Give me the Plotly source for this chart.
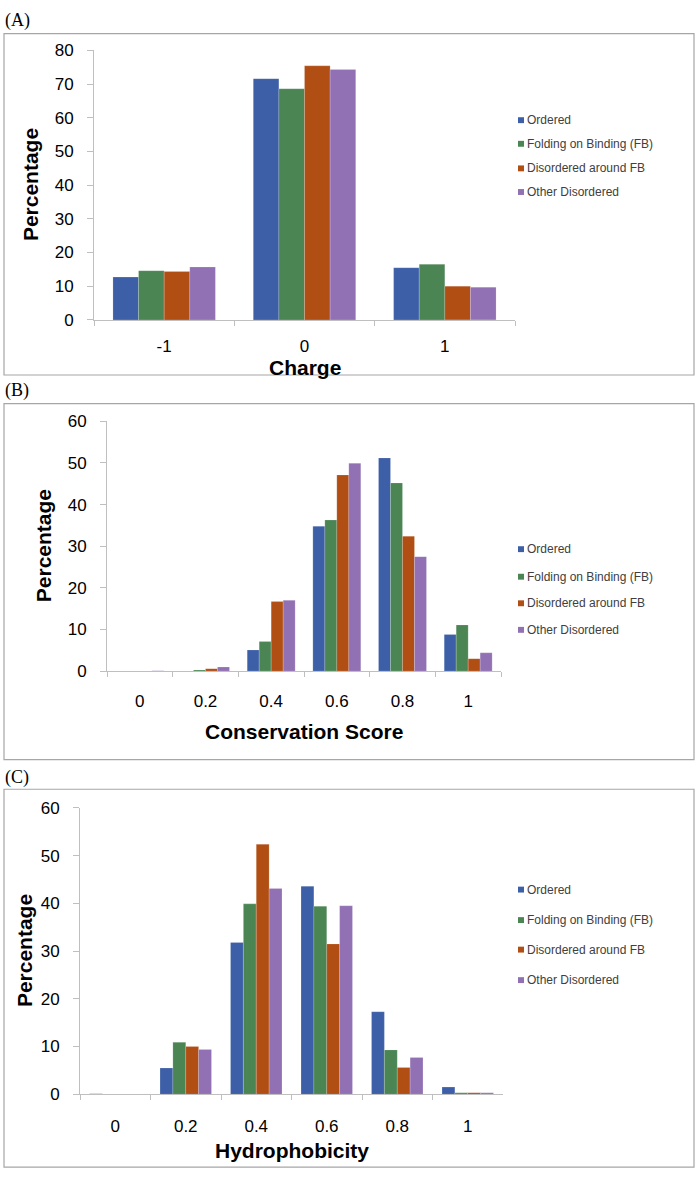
import plotly.graph_objects as go

# series shared by all three panels
series = ["Ordered", "Folding on Binding (FB)", "Disordered around FB", "Other Disordered"]
colors = ["#3D5FA7", "#4A8553", "#B04E14", "#9170B3"]

# (A) charge
charge_cats = ["-1", "0", "1"]
charge_ordered = [12.7, 71.6, 15.5]
charge_fb = [14.6, 68.6, 16.5]
charge_dis_fb = [14.4, 75.4, 10.0]
charge_other = [15.7, 74.3, 9.7]

# (B) conservation score
cons_cats = ["0", "0.2", "0.4", "0.6", "0.8", "1"]
cons_ordered = [0.0, 0.0, 5.1, 34.8, 51.2, 8.8]
cons_fb = [0.0, 0.3, 7.1, 36.3, 45.2, 11.1]
cons_dis_fb = [0.0, 0.6, 16.7, 47.1, 32.4, 3.0]
cons_other = [0.1, 1.0, 17.0, 49.9, 27.5, 4.4]

# (C) hydrophobicity
hyd_cats = ["0", "0.2", "0.4", "0.6", "0.8", "1"]
hyd_ordered = [0.1, 5.5, 31.8, 43.6, 17.3, 1.5]
hyd_fb = [0.0, 10.9, 39.9, 39.4, 9.3, 0.3]
hyd_dis_fb = [0.0, 10.0, 52.4, 31.5, 5.6, 0.3]
hyd_other = [0.0, 9.4, 43.1, 39.5, 7.7, 0.3]

W, H = 700, 1181
def px(x):
    return x / W
def py(y):
    return 1 - y / H

GREY = "#BFBFBF"
BOX = "#A6A6A6"

panels = [
    dict(tag="(A)", cats=charge_cats, vals=[charge_ordered, charge_fb, charge_dis_fb, charge_other],
         xtitle="Charge", ymax=80, xdom=(94, 515), ydom=(42, 316), box=(25, 372), label_y=12,
         ytitle_x=30, xtitle_y=364, xlab_off=11, legend_rows=[113, 137, 162, 186]),
    dict(tag="(B)", cats=cons_cats, vals=[cons_ordered, cons_fb, cons_dis_fb, cons_other],
         xtitle="Conservation Score", ymax=60, xdom=(107, 501), ydom=(419, 673), box=(401, 763), label_y=388,
         ytitle_x=43, xtitle_y=734, xlab_off=14, legend_rows=[549, 577, 604, 631]),
    dict(tag="(C)", cats=hyd_cats, vals=[hyd_ordered, hyd_fb, hyd_dis_fb, hyd_other],
         xtitle="Hydrophobicity", ymax=60, xdom=(80, 503), ydom=(812, 1103), box=(793, 1177), label_y=781,
         ytitle_x=24, xtitle_y=1160, xlab_off=16, legend_rows=[895, 926, 956, 987]),
]

fig = go.Figure()
shapes = []
annotations = []
layout_axes = {}

for i, p in enumerate(panels):
    n = "" if i == 0 else str(i + 1)
    for name, color, vals in zip(series, colors, p["vals"]):
        fig.add_trace(go.Bar(
            x=p["cats"], y=vals, name=name, xaxis="x" + n, yaxis="y" + n,
            marker=dict(color=color, line=dict(color="rgba(255,255,255,0.35)", width=0.5)),
            showlegend=False,
        ))

    layout_axes["xaxis" + n] = dict(
        domain=[px(p["xdom"][0]), px(p["xdom"][1])], anchor="y" + n, type="category",
        tickson="boundaries", ticks="outside", ticklen=5, tickcolor=GREY,
        showline=True, linecolor=GREY, linewidth=1, showgrid=False,
        tickfont=dict(family="Liberation Sans, Arial", size=17, color="#000000"),
        ticklabelstandoff=p["xlab_off"], fixedrange=True,
    )
    layout_axes["yaxis" + n] = dict(
        domain=[py(p["ydom"][1]), py(p["ydom"][0])], anchor="x" + n,
        range=[0, p["ymax"]], dtick=10, ticks="outside", ticklen=6, tickcolor=GREY,
        showline=True, linecolor=GREY, linewidth=1, showgrid=False, zeroline=False,
        tickfont=dict(family="Liberation Sans, Arial", size=17, color="#000000"),
        ticklabelstandoff=10, fixedrange=True,
    )

    # panel frame and letter
    shapes.append(dict(type="rect", xref="paper", yref="paper",
                       x0=px(4), x1=px(694), y0=py(p["box"][1]), y1=py(p["box"][0]),
                       line=dict(color=BOX, width=1.2)))
    annotations.append(dict(text=p["tag"], x=px(3), y=py(p["label_y"]), xref="paper", yref="paper",
                            xanchor="left", yanchor="middle", showarrow=False,
                            font=dict(family="Liberation Serif, serif", size=18, color="#000000")))

    # axis titles
    annotations.append(dict(text="<b>Percentage</b>", x=px(p["ytitle_x"]),
                            y=py((p["ydom"][0] + p["ydom"][1]) / 2), xref="paper", yref="paper",
                            textangle=-90, showarrow=False, xanchor="center", yanchor="middle",
                            font=dict(family="Liberation Sans, Arial", size=21, color="#000000")))
    annotations.append(dict(text="<b>" + p["xtitle"] + "</b>",
                            x=px((p["xdom"][0] + p["xdom"][1]) / 2), y=py(p["xtitle_y"]),
                            xref="paper", yref="paper", showarrow=False,
                            xanchor="center", yanchor="middle",
                            font=dict(family="Liberation Sans, Arial", size=21, color="#000000")))

    # legend, Excel style: small square then label
    for name, color, row in zip(series, colors, p["legend_rows"]):
        shapes.append(dict(type="rect", xref="paper", yref="paper",
                           x0=px(518), x1=px(524), y0=py(row + 3), y1=py(row - 3),
                           fillcolor=color, line=dict(width=0)))
        annotations.append(dict(text=name, x=px(525), y=py(row), xref="paper", yref="paper",
                                xanchor="left", yanchor="middle", showarrow=False,
                                font=dict(family="Liberation Sans, Arial", size=12, color="#404040")))

fig.update_layout(
    width=W, height=H,
    margin=dict(l=0, r=0, t=0, b=0),
    paper_bgcolor="white", plot_bgcolor="white",
    barmode="group", bargap=0.27, bargroupgap=0,
    shapes=shapes, annotations=annotations,
    showlegend=False,
    **layout_axes,
)

# drop the default page margin so the 700x1181 figure fills the window exactly
fig.write_html("out.html", config={"displayModeBar": False},
               post_script="document.body.style.margin='0';")
